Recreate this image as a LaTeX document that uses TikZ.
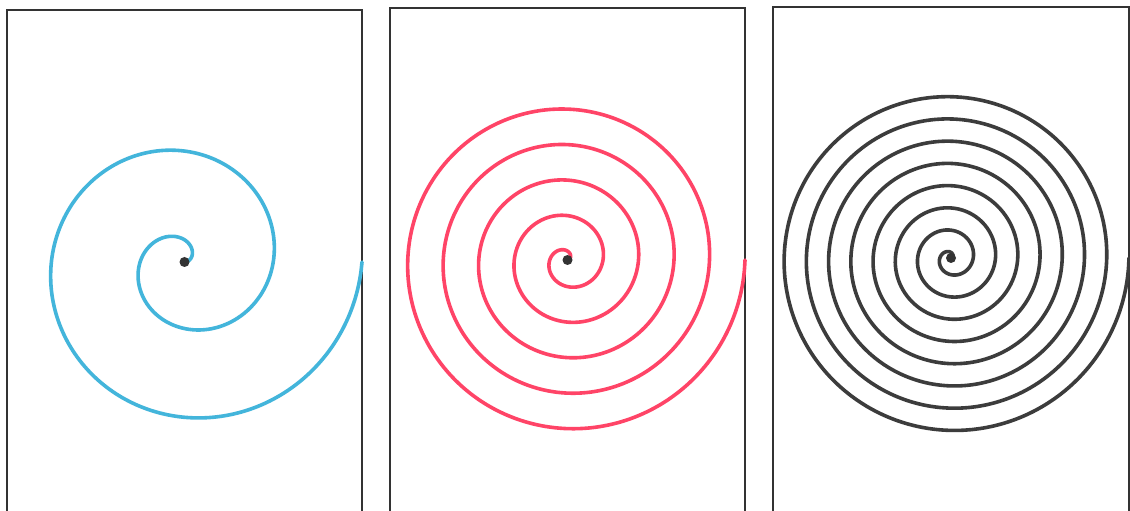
\documentclass[tikz,border=0pt]{standalone}
\definecolor{spblue}{HTML}{43B5DB}
\definecolor{spred}{HTML}{FF4467}
\definecolor{spdark}{HTML}{3C3C3C}
\definecolor{frame}{HTML}{333333}
\tikzset{
  panelframe/.style={draw=frame, line width=2pt, line join=miter},
  spiralline/.style={line width=3.6pt, line cap=round},
  centerdot/.style={fill=frame, draw=none},
}
\begin{document}
\begin{tikzpicture}[x=1pt,y=1pt]
\useasboundingbox[fill=white] (0,0) rectangle (1130,511);
% panel frames (open at the bottom)
\draw[panelframe] (7,0) -- (7,501) -- (362,501) -- (362,0);
\draw[panelframe] (390,0) -- (390,503) -- (745,503) -- (745,0);
\draw[panelframe] (773,0) -- (773,504) -- (1129,504) -- (1129,0);
% spirals
\draw[spiralline, spblue, shift={(184.5,249)}]
  plot[domain=0:720, samples=240, smooth] ({\x}:{0.246528*\x});
\draw[spiralline, spred, shift={(567.5,251)}]
  plot[domain=0:1800, samples=500, smooth] ({\x}:{0.0986111*\x});
\draw[spiralline, spdark, shift={(951,253)}]
  plot[domain=0:2880, samples=800, smooth] ({\x}:{0.0618056*\x});
% centre dots
\fill[centerdot] (184.5,249) circle (5);
\fill[centerdot] (567.5,251) circle (5);
\fill[centerdot] (951,253) circle (5);
\end{tikzpicture}
\end{document}
